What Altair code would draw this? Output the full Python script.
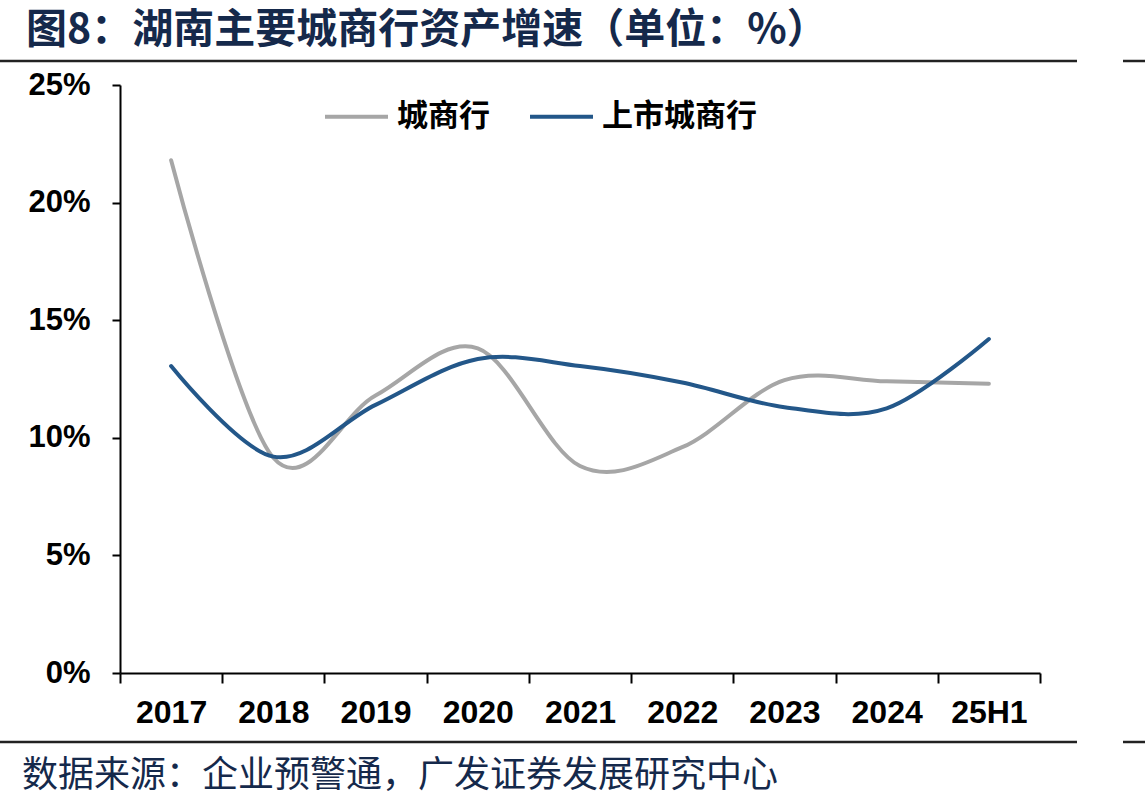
import altair as alt
import pandas as pd

categories = ["2017", "2018", "2019", "2020", "2021", "2022", "2023", "2024", "25H1"]
city_banks = [21.8, 9.15, 11.8, 13.8, 8.8, 9.6, 12.45, 12.4, 12.3]
listed_city_banks = [13.05, 9.2, 11.4, 13.35, 13.05, 12.35, 11.3, 11.25, 14.2]
series_names = ["城商行", "上市城商行"]
series_colors = ["#a6a6a6", "#235789"]
y_ticks = [0, 5, 10, 15, 20, 25]

title_text = "图8：湖南主要城商行资产增速（单位：%）"
source_text = "数据来源：企业预警通，广发证券发展研究中心"

rows = []
for c, v in zip(categories, city_banks):
    rows.append({"cat": c, "val": v, "series": series_names[0]})
for c, v in zip(categories, listed_city_banks):
    rows.append({"cat": c, "val": v, "series": series_names[1]})
df = pd.DataFrame(rows)

W, H = 920, 588

lines = alt.Chart(df).mark_line(
    interpolate="cardinal", tension=0, strokeWidth=4, strokeCap="round"
).encode(
    x=alt.X(
        "cat:N",
        sort=categories,
        bandPosition=0.5,
        scale=alt.Scale(type="band", paddingInner=0, paddingOuter=0),
        axis=alt.Axis(
            title=None,
            labelAngle=0,
            tickBand="extent",
            domainColor="black",
            domainWidth=2,
            tickColor="black",
            tickWidth=2,
            tickSize=10,
            labelFont="Liberation Sans",
            labelFontWeight="bold",
            labelFontSize=32,
            labelColor="black",
            labelPadding=14,
        ),
    ),
    y=alt.Y(
        "val:Q",
        scale=alt.Scale(domain=[0, 25], nice=False),
        axis=alt.Axis(
            title=None,
            values=y_ticks,
            labelExpr="datum.value + '%'",
            grid=False,
            domainColor="black",
            domainWidth=2,
            tickColor="black",
            tickWidth=2,
            tickSize=8,
            labelFont="Liberation Sans",
            labelFontWeight="bold",
            labelFontSize=31,
            labelColor="black",
            labelPadding=22,
        ),
    ),
    color=alt.Color(
        "series:N",
        sort=series_names,
        scale=alt.Scale(domain=series_names, range=series_colors),
        legend=alt.Legend(
            title=None,
            orient="none",
            legendX=203,
            legendY=-2,
            direction="horizontal",
            symbolType="stroke",
            symbolSize=3969,
            symbolStrokeWidth=4,
            labelFont="Noto Sans CJK SC",
            labelFontWeight="bold",
            labelFontSize=31,
            labelColor="black",
            labelOffset=7,
            columnPadding=32,
            labelLimit=0,
        ),
    ),
)

one = pd.DataFrame({"a": [0]})

title = alt.Chart(one).mark_text(
    align="left", baseline="middle", font="Noto Sans CJK SC", fontWeight="bold",
    fontSize=41, color="#15294b"
).encode(x=alt.value(-94), y=alt.value(-54), text=alt.value(title_text))

source = alt.Chart(one).mark_text(
    align="left", baseline="middle", font="Noto Sans CJK SC", fontWeight="normal",
    fontSize=36, color="#15294b"
).encode(x=alt.value(-98), y=alt.value(691), text=alt.value(source_text))

rule_style = dict(color="#222222", strokeWidth=2.5)
top1 = alt.Chart(one).mark_rule(**rule_style).encode(
    x=alt.value(-120), x2=alt.value(957), y=alt.value(-24))
top2 = alt.Chart(one).mark_rule(**rule_style).encode(
    x=alt.value(1003), x2=alt.value(1025), y=alt.value(-24))
bot1 = alt.Chart(one).mark_rule(**rule_style).encode(
    x=alt.value(-120), x2=alt.value(957), y=alt.value(657))
bot2 = alt.Chart(one).mark_rule(**rule_style).encode(
    x=alt.value(1003), x2=alt.value(1025), y=alt.value(657))

chart = alt.layer(lines, title, source, top1, top2, bot1, bot2).properties(
    width=W,
    height=H,
    autosize=alt.AutoSizeParams(type="none"),
    padding={"left": 120, "top": 85, "right": 105, "bottom": 138},
    background="white",
).configure_view(stroke=None)

chart.save("out.html", embed_options={"renderer": "svg", "actions": False})
